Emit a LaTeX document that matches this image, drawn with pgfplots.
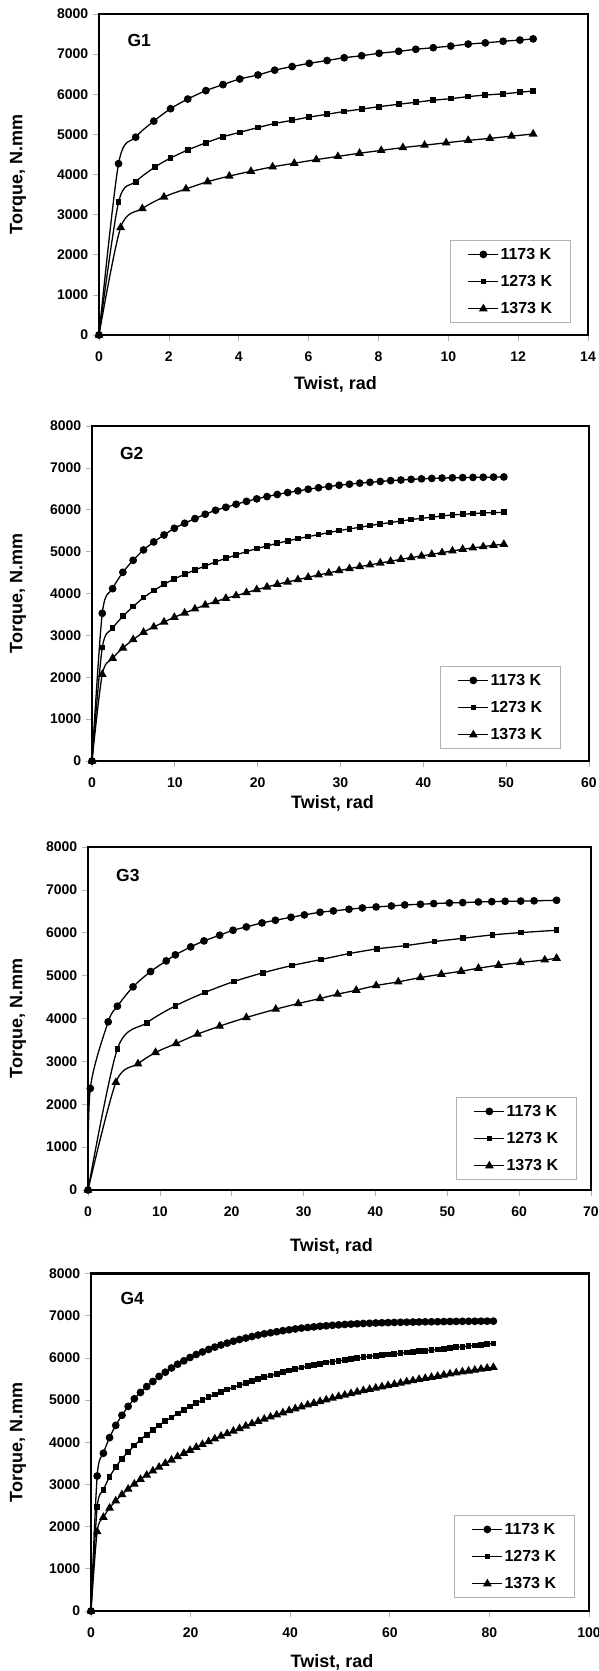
\documentclass[border=0pt]{standalone}
\usepackage{fontspec}
\setmainfont{Liberation Sans}
\usepackage{pgfplots}
\usepackage{pgfplotstable}
\pgfplotsset{compat=1.18}

% G2: x, 1173 K, 1273 K, 1373 K
\pgfplotstableread{
x a b c
0 0 0 0
1.24 3527 2707 2070
2.49 4116 3169 2452
3.73 4506 3455 2699
4.97 4793 3686 2898
6.22 5040 3901 3073
7.46 5231 4068 3201
8.70 5398 4220 3320
9.94 5557 4347 3432
11.19 5677 4459 3535
12.43 5788 4562 3631
13.67 5892 4658 3726
14.92 5987 4753 3806
16.16 6059 4841 3885
17.40 6131 4920 3949
18.65 6200 5000 4021
19.89 6260 5072 4092
21.13 6315 5135 4156
22.37 6365 5199 4220
23.62 6410 5255 4275
24.86 6450 5310 4331
26.10 6490 5358 4387
27.35 6525 5406 4443
28.59 6555 5454 4490
29.83 6585 5502 4546
31.08 6610 5541 4594
32.32 6635 5581 4642
33.56 6655 5621 4682
34.80 6675 5661 4729
36.05 6695 5693 4769
37.29 6710 5732 4817
38.53 6725 5764 4857
39.78 6738 5796 4896
41.02 6748 5820 4936
42.26 6757 5852 4976
43.51 6763 5876 5016
44.75 6768 5892 5056
45.99 6772 5908 5088
47.23 6776 5924 5119
48.48 6779 5931 5151
49.72 6783 5939 5175
}\gtwo

% G4: x, 1173 K, 1273 K, 1373 K
\pgfplotstableread{
x a b c
0 0 0 0
1.24 3200 2460 1880
2.49 3740 2870 2220
3.73 4110 3180 2440
4.97 4400 3410 2610
6.22 4640 3610 2760
7.46 4850 3770 2890
8.70 5030 3920 3010
9.94 5180 4060 3120
11.19 5320 4180 3220
12.43 5440 4290 3320
13.67 5560 4400 3410
14.92 5660 4500 3500
16.16 5760 4590 3580
17.40 5850 4680 3660
18.65 5930 4770 3740
19.89 6010 4850 3810
21.13 6080 4925 3880
22.37 6140 5000 3950
23.62 6200 5065 4015
24.86 6255 5130 4080
26.10 6305 5190 4145
27.35 6350 5250 4205
28.59 6395 5300 4265
29.83 6435 5350 4325
31.08 6470 5400 4385
32.32 6505 5450 4440
33.56 6540 5495 4495
34.80 6570 5540 4550
36.05 6595 5580 4600
37.29 6620 5620 4650
38.53 6645 5660 4700
39.78 6665 5700 4750
41.02 6685 5735 4795
42.26 6705 5770 4840
43.51 6720 5800 4885
44.75 6735 5830 4925
45.99 6750 5860 4965
47.23 6760 5890 5005
48.48 6772 5910 5045
49.72 6782 5930 5085
50.96 6792 5955 5120
52.21 6800 5975 5155
53.45 6808 5995 5190
54.69 6815 6015 5225
55.94 6821 6035 5255
57.18 6827 6050 5285
58.42 6832 6065 5315
59.66 6836 6080 5345
60.91 6840 6095 5375
62.15 6843 6110 5405
63.39 6846 6125 5435
64.64 6849 6140 5460
65.88 6852 6155 5490
67.12 6854 6170 5515
68.37 6856 6185 5540
69.61 6858 6200 5565
70.85 6860 6218 5595
72.09 6862 6235 5620
73.34 6864 6250 5645
74.58 6866 6265 5670
75.82 6867 6280 5690
77.07 6868 6295 5710
78.31 6869 6310 5735
79.55 6870 6325 5755
80.80 6871 6340 5775
}\gfour

\pgfplotsset{
  torque/.style 2 args={
    scale only axis,
    anchor=south west,
    xmin=0, ymin=0, ymax=8000,
    ytick={0,1000,...,8000},
    axis line style={line width=2.8pt},
    tick align=outside, tick pos=left,
    major tick length=6pt,
    tick style={draw=gray!60, line width=0.7pt},
    ticklabel style={font=\bfseries\fontsize{14}{16}\selectfont},
    xticklabel style={yshift=-7pt},
    yticklabel style={xshift=-1.3pt},
    /pgf/number format/assume math mode=true,
    /pgf/number format/1000 sep={},
    scaled ticks=false,
    label style={font=\bfseries\fontsize{18}{20}\selectfont},
    xlabel={Twist, rad},
    ylabel={Torque, N.mm},
    xlabel style={at={(axis description cs:0.5,0)}, anchor=base, xshift=-8pt, yshift=#1},
    ylabel style={at={(axis description cs:0,0.5)}, anchor=center, yshift=#2},
    legend cell align=left,
    legend style={at={(1,0)}, anchor=south east, draw=gray!60, line width=0.8pt,
      fill=white, font=\bfseries\fontsize{16}{18}\selectfont,
      nodes={inner sep=1.5pt}, inner xsep=17pt, inner ysep=6pt, row sep=11.5pt},
    legend image code/.code={%
      \draw[mark repeat=2, mark phase=2, ##1] plot coordinates {(0pt,0pt) (15pt,0pt) (30pt,0pt)};},
  },
  s1/.style={black, line width=1.3pt, smooth, mark=*, mark size=3.2pt, mark options={solid, fill=black}},
  s2/.style={black, line width=1.3pt, smooth, mark=square*, mark size=2.2pt, mark options={solid, fill=black}},
  s3/.style={black, line width=1.3pt, smooth, mark=triangle*, mark size=3.8pt, mark options={solid, fill=black}},
}
\tikzset{glabel/.style={anchor=base west, font=\bfseries\fontsize{17.5}{20}\selectfont}}

\begin{document}
\begin{tikzpicture}
\useasboundingbox (0pt,0pt) rectangle (598pt,1671pt);

% G1
\begin{axis}[torque={-55pt}{81pt}, at={(99pt,1336pt)}, width=489pt, height=321pt,
  xmax=14, xtick={0,2,...,14}, legend style={xshift=-17pt, yshift=12pt}]
\addplot[s1] coordinates {(0,0) (0.56,4270) (1.05,4930) (1.57,5330) (2.05,5640) (2.54,5880)
  (3.06,6090) (3.55,6240) (4.03,6380) (4.55,6480) (5.03,6600) (5.53,6690) (6.02,6770)
  (6.53,6840) (7.02,6910) (7.52,6960) (8.02,7020) (8.58,7070) (9.07,7120) (9.57,7160)
  (10.07,7200) (10.57,7250) (11.06,7280) (11.57,7320) (12.05,7350) (12.43,7380)};
\addlegendentry{1173 K}
\addplot[s2] coordinates {(0,0) (0.56,3310) (1.05,3820) (1.61,4190) (2.05,4410) (2.54,4610)
  (3.06,4790) (3.55,4940) (4.03,5050) (4.55,5170) (5.03,5270) (5.53,5350) (6.02,5430)
  (6.53,5500) (7.02,5570) (7.52,5630) (8.02,5690) (8.58,5750) (9.07,5800) (9.57,5850)
  (10.07,5890) (10.57,5940) (11.06,5980) (11.57,6010) (12.05,6050) (12.43,6080)};
\addlegendentry{1273 K}
\addplot[s3] coordinates {(0,0) (0.62,2680) (1.24,3150) (1.86,3440) (2.49,3640) (3.11,3820)
  (3.73,3960) (4.35,4080) (4.97,4190) (5.59,4280) (6.22,4370) (6.84,4450) (7.46,4530)
  (8.08,4600) (8.70,4670) (9.32,4730) (9.94,4790) (10.57,4850) (11.19,4900) (11.81,4955)
  (12.43,5010)};
\addlegendentry{1373 K}
\node[glabel] at (rel axis cs:0,1) [xshift=25pt, yshift=-33pt] {G1};
\end{axis}

% G2
\begin{axis}[torque={-48pt}{74pt}, at={(92pt,910pt)}, width=497pt, height=335pt,
  xmax=60, xtick={0,10,...,60}, legend style={xshift=-28pt, yshift=12pt}]
\addplot[s1] table[x=x, y=a] {\gtwo};
\addlegendentry{1173 K}
\addplot[s2] table[x=x, y=b] {\gtwo};
\addlegendentry{1273 K}
\addplot[s3] table[x=x, y=c] {\gtwo};
\addlegendentry{1373 K}
\node[glabel] at (rel axis cs:0,1) [xshift=24.5pt, yshift=-34pt] {G2};
\end{axis}

% G3
\begin{axis}[torque={-62pt}{70pt}, at={(88pt,481pt)}, width=503pt, height=343pt,
  xmax=70, xtick={0,10,...,70}, legend style={xshift=-14pt, yshift=10pt}]
\addplot[s1] coordinates {(0,0) (0.32,2369) (2.81,3922) (4.09,4287) (6.27,4738) (8.71,5095)
  (10.89,5344) (12.16,5484) (14.29,5670) (16.14,5810) (18.32,5942) (20.18,6058) (22.04,6136)
  (24.22,6229) (26.08,6291) (28.25,6361) (30.11,6416) (32.29,6478) (34.15,6509) (36.32,6548)
  (38.18,6579) (40.10,6602) (42.22,6625) (44.08,6649) (46.26,6664) (48.11,6680) (50.29,6695)
  (52.15,6703) (54.33,6718) (56.19,6726) (58.05,6734) (60.22,6738) (62.08,6745) (65.21,6757)};
\addlegendentry{1173 K}
\addplot[s2] coordinates {(0,0) (4.09,3293) (8.18,3899) (12.16,4295) (16.25,4606) (20.29,4862)
  (24.32,5064) (28.36,5235) (32.40,5375) (36.38,5515) (40.20,5623) (44.24,5701) (48.22,5794)
  (52.20,5872) (56.29,5950) (60.27,6004) (65.21,6058)};
\addlegendentry{1273 K}
\addplot[s3] coordinates {(0,0) (3.88,2509) (6.96,2944) (9.40,3208) (12.27,3417) (15.24,3635)
  (18.32,3821) (22.04,4023) (26.13,4217) (29.26,4349) (32.29,4466) (34.73,4567) (37.33,4660)
  (40.10,4769) (43.18,4854) (46.26,4955) (49.18,5033) (51.94,5103) (54.33,5173) (57.14,5243)
  (60.17,5305) (63.57,5367) (65.21,5406)};
\addlegendentry{1373 K}
\node[glabel] at (rel axis cs:0,1) [xshift=24.7pt, yshift=-35pt] {G3};
\end{axis}

% G4
\begin{axis}[torque={-56pt}{73pt}, at={(91pt,60pt)}, width=498pt, height=337.5pt,
  xmax=100, xtick={0,20,...,100}, legend style={xshift=-14pt, yshift=13pt}]
\addplot[s1] table[x=x, y=a] {\gfour};
\addlegendentry{1173 K}
\addplot[s2] table[x=x, y=b] {\gfour};
\addlegendentry{1273 K}
\addplot[s3] table[x=x, y=c] {\gfour};
\addlegendentry{1373 K}
\node[glabel] at (rel axis cs:0,1) [xshift=26pt, yshift=-31.5pt] {G4};
\end{axis}
\end{tikzpicture}
\end{document}
